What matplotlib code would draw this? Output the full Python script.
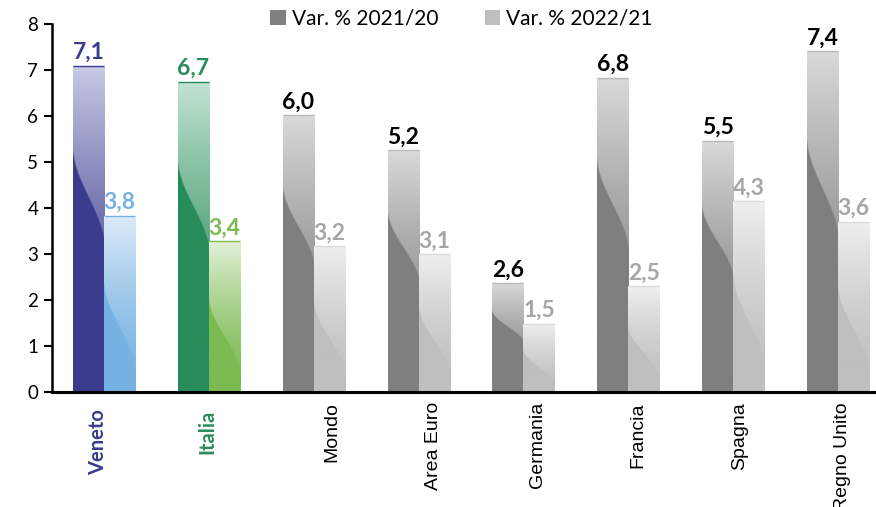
import numpy as np
import matplotlib
matplotlib.use("Agg")
import matplotlib.pyplot as plt
from matplotlib.patches import Patch

# data
categories = ["Veneto", "Italia", "Mondo", "Area Euro", "Germania", "Francia", "Spagna", "Regno Unito"]
var_2021 = [7.09, 6.74, 6.02, 5.26, 2.37, 6.83, 5.46, 7.41]
var_2022 = [3.83, 3.28, 3.17, 3.00, 1.48, 2.30, 4.15, 3.70]
labels_2021 = ["7,1", "6,7", "6,0", "5,2", "2,6", "6,8", "5,5", "7,4"]
labels_2022 = ["3,8", "3,4", "3,2", "3,1", "1,5", "2,5", "4,3", "3,6"]
series_names = ["Var. % 2021/20", "Var. % 2022/21"]
yticks = [0, 1, 2, 3, 4, 5, 6, 7, 8]

# colours: (solid, top of gradient, value label)
dark_cols = [("#3C3C8E", "#CBCBE5", "#3C3C8E"), ("#288C5A", "#C4E4D3", "#288C5A")] + [("#7F7F7F", "#DADADA", "black")] * 6
light_cols = [("#76B2E2", "#DEECF8", "#76B2E2"), ("#7CBA52", "#E4F1DA", "#7CBA52")] + [("#BFBFBF", "#EFEFEF", "#A6A6A6")] * 6
cat_cols = ["#3C3C8E", "#288C5A"] + ["black"] * 6
cat_offsets = [-0.06, -0.01, 0.17, 0.14, 0.13, 0.09, 0.06, 0.04]


def hex2rgb(h):
    return np.array(matplotlib.colors.to_rgb(h))


def wave_image(solid, top, v_left, v_right, nx=60, ny=240):
    # lower-left part solid, upper-right part a vertical gradient, split by an s-curve
    u = (np.arange(nx) + 0.5) / nx
    v = 1 - (np.arange(ny) + 0.5) / ny
    U, V = np.meshgrid(u, v)
    t = np.clip((v_left - V) / (v_left - v_right), 0, 1)
    ub = t * t * (3 - 2 * t)
    mask = np.clip((ub - U) * nx * 1.2 + 0.5, 0, 1)
    s, tp = hex2rgb(solid), hex2rgb(top)
    f = (V ** 1.5)[..., None]
    grad = s + (tp - s) * f
    img = grad * (1 - mask[..., None]) + s * mask[..., None]
    return img


fig = plt.figure(figsize=(8.76, 5.07), dpi=100)
ax = fig.add_axes([0.0594, 0.2268, 0.9406, 0.7259])

x = np.arange(len(categories))
w = 0.296
bars1 = ax.bar(x - w / 2, var_2021, w, color="none", edgecolor="none", zorder=3)
bars2 = ax.bar(x + w / 2, var_2022, w, color="none", edgecolor="none", zorder=3)

for bars, cols, vl, vr, lab in [(bars1, dark_cols, 0.75, 0.44, labels_2021),
                                (bars2, light_cols, 0.63, 0.10, labels_2022)]:
    for i, p in enumerate(bars):
        x0, y0 = p.get_x(), p.get_y()
        x1, y1 = x0 + p.get_width(), y0 + p.get_height()
        img = wave_image(cols[i][0], cols[i][1], vl, vr)
        im = ax.imshow(img, extent=[x0, x1, y0, y1], aspect="auto", origin="upper",
                       interpolation="bilinear", zorder=2)
        im.set_clip_path(p)
        # thin outline on top of the bar
        edge = matplotlib.colors.to_rgb(cols[i][0])
        edge = tuple(0.55 * np.array(edge) + 0.45) if i > 1 else edge
        ax.plot([x0, x1], [y1, y1], color=edge, lw=1.0, zorder=4, solid_capstyle="butt")
        ax.annotate(lab[i], ((x0 + x1) / 2, y1), xytext=(0, 2), textcoords="offset points",
                    ha="center", va="bottom", fontsize=16.5, fontweight="bold",
                    color=cols[i][2], family="Lato", zorder=5)

ax.set_xlim(-0.496, 7.362)
ax.set_ylim(0, 8)
ax.set_yticks(yticks)
ax.set_yticklabels([str(t) for t in yticks], fontsize=13.5, family="Lato")
ax.tick_params(axis="y", direction="out", length=6, width=1.5, pad=4)
ax.set_xticks([])
ax.spines["top"].set_visible(False)
ax.spines["right"].set_visible(False)
ax.spines["left"].set_linewidth(1.8)
ax.spines["bottom"].set_linewidth(2.2)
ax.spines["bottom"].set_zorder(6)

# category labels (rotated, hanging below the axis)
for i, c in enumerate(categories):
    if i < 2:
        ax.text(x[i] + cat_offsets[i], -0.38, c, rotation=90, ha="center", va="top",
                fontsize=14.5, fontweight="bold", color=cat_cols[i], family="Lato",
                clip_on=False)
    else:
        ax.text(x[i] + cat_offsets[i], -0.22, c, rotation=90, ha="center", va="top",
                fontsize=14, color=cat_cols[i], family="Liberation Sans", clip_on=False)

handles = [Patch(facecolor="#808080", edgecolor="none"), Patch(facecolor="#BFBFBF", edgecolor="none")]
fig.legend(handles, series_names, loc="center", bbox_to_anchor=(0.527, 0.963), ncol=2,
           frameon=False, handlelength=0.75, handleheight=0.75, handletextpad=0.3,
           columnspacing=2.2, prop={"family": "Lato", "size": 15})

plt.savefig("out.png", dpi=100)
